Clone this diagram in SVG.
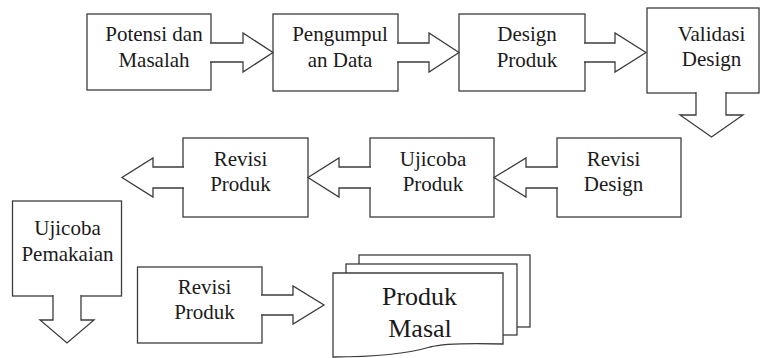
<svg xmlns="http://www.w3.org/2000/svg" width="761" height="358" viewBox="0 0 761 358">
<style>
.box{fill:#fff;stroke:#3c3c3c;stroke-width:1.3}
.arr{fill:#fff;stroke:#3c3c3c;stroke-width:1.3;stroke-linejoin:miter}
text{font-family:"Liberation Serif","Times New Roman",Times,Tinos,"Nimbus Roman","Nimbus Roman No9 L","FreeSerif","Noto Serif","DejaVu Serif",serif;fill:#1a1a1a;text-anchor:middle;font-size:21px}
.tb{font-size:26px}
</style>
<rect width="761" height="358" fill="#fff"/>
<g id="potensi">
<rect class="box" x="87" y="14" width="124" height="76"/>
<text x="154" y="41">Potensi dan</text>
<text x="154" y="66.5">Masalah</text>
</g>
<g id="pengumpulan">
<rect class="box" x="273" y="14" width="125" height="77"/>
<text x="340" y="41">Pengumpul</text>
<text x="340" y="66.5">an Data</text>
</g>
<g id="design-produk">
<rect class="box" x="459" y="14" width="126" height="77"/>
<text x="527" y="41">Design</text>
<text x="527" y="66.5">Produk</text>
</g>
<g id="validasi">
<rect class="box" x="647" y="8" width="112" height="85"/>
<text x="711.5" y="41">Validasi</text>
<text x="711.5" y="66">Design</text>
</g>
<g id="revisi-design">
<rect class="box" x="557" y="138" width="124" height="79"/>
<text x="613.5" y="165.5">Revisi</text>
<text x="613.5" y="191">Design</text>
</g>
<g id="ujicoba-produk">
<rect class="box" x="370" y="138" width="124" height="79"/>
<text x="433" y="165.5">Ujicoba</text>
<text x="433" y="191">Produk</text>
</g>
<g id="revisi-produk-1">
<rect class="box" x="183" y="138" width="125" height="79"/>
<text x="240.5" y="165.5">Revisi</text>
<text x="240.5" y="191">Produk</text>
</g>
<g id="ujicoba-pemakaian">
<rect class="box" x="12.5" y="201" width="109" height="95"/>
<text x="67.5" y="235">Ujicoba</text>
<text x="67.5" y="261">Pemakaian</text>
</g>
<g id="revisi-produk-2">
<rect class="box" x="137.5" y="267" width="124.5" height="76"/>
<text x="204.5" y="293.5">Revisi</text>
<text x="204.5" y="319">Produk</text>
</g>
<g id="produk-masal">
<rect class="box" x="359" y="255" width="171" height="72"/>
<rect class="box" x="346" y="264" width="171" height="71"/>
<path class="box" d="M333,273 H503 V344 C470,343 445,343 430,347 C410,353 380,357 333,357 Z"/>
<text class="tb" x="419.5" y="305">Produk</text>
<text class="tb" x="420" y="336.5">Masal</text>
</g>
<g id="connectors">
<path class="arr" d="M210,43 H243 V33 L273,52.5 L243,72 V62 H210"/>
<path class="arr" d="M397,43 H429 V33 L459,52.5 L429,72 V62 H397"/>
<path class="arr" d="M584,43 H615 V33 L646,52.5 L615,72 V62 H584"/>
<path class="arr" d="M696,92 V115 H680 L711.5,137 L743,115 H726 V92"/>
<path class="arr" d="M558,167 H526 V158 L494,177.5 L526,197 V188 H558"/>
<path class="arr" d="M371,167 H339 V158 L308,177.5 L339,197 V188 H371"/>
<path class="arr" d="M184,167 H153 V158 L122,177.5 L153,197 V188 H184"/>
<path class="arr" d="M53,295 V320 H40 L67,343 L94,320 H81 V295"/>
<path class="arr" d="M261,295 H293 V286 L324,305 L293,324 V315 H261"/>
</g>
</svg>
